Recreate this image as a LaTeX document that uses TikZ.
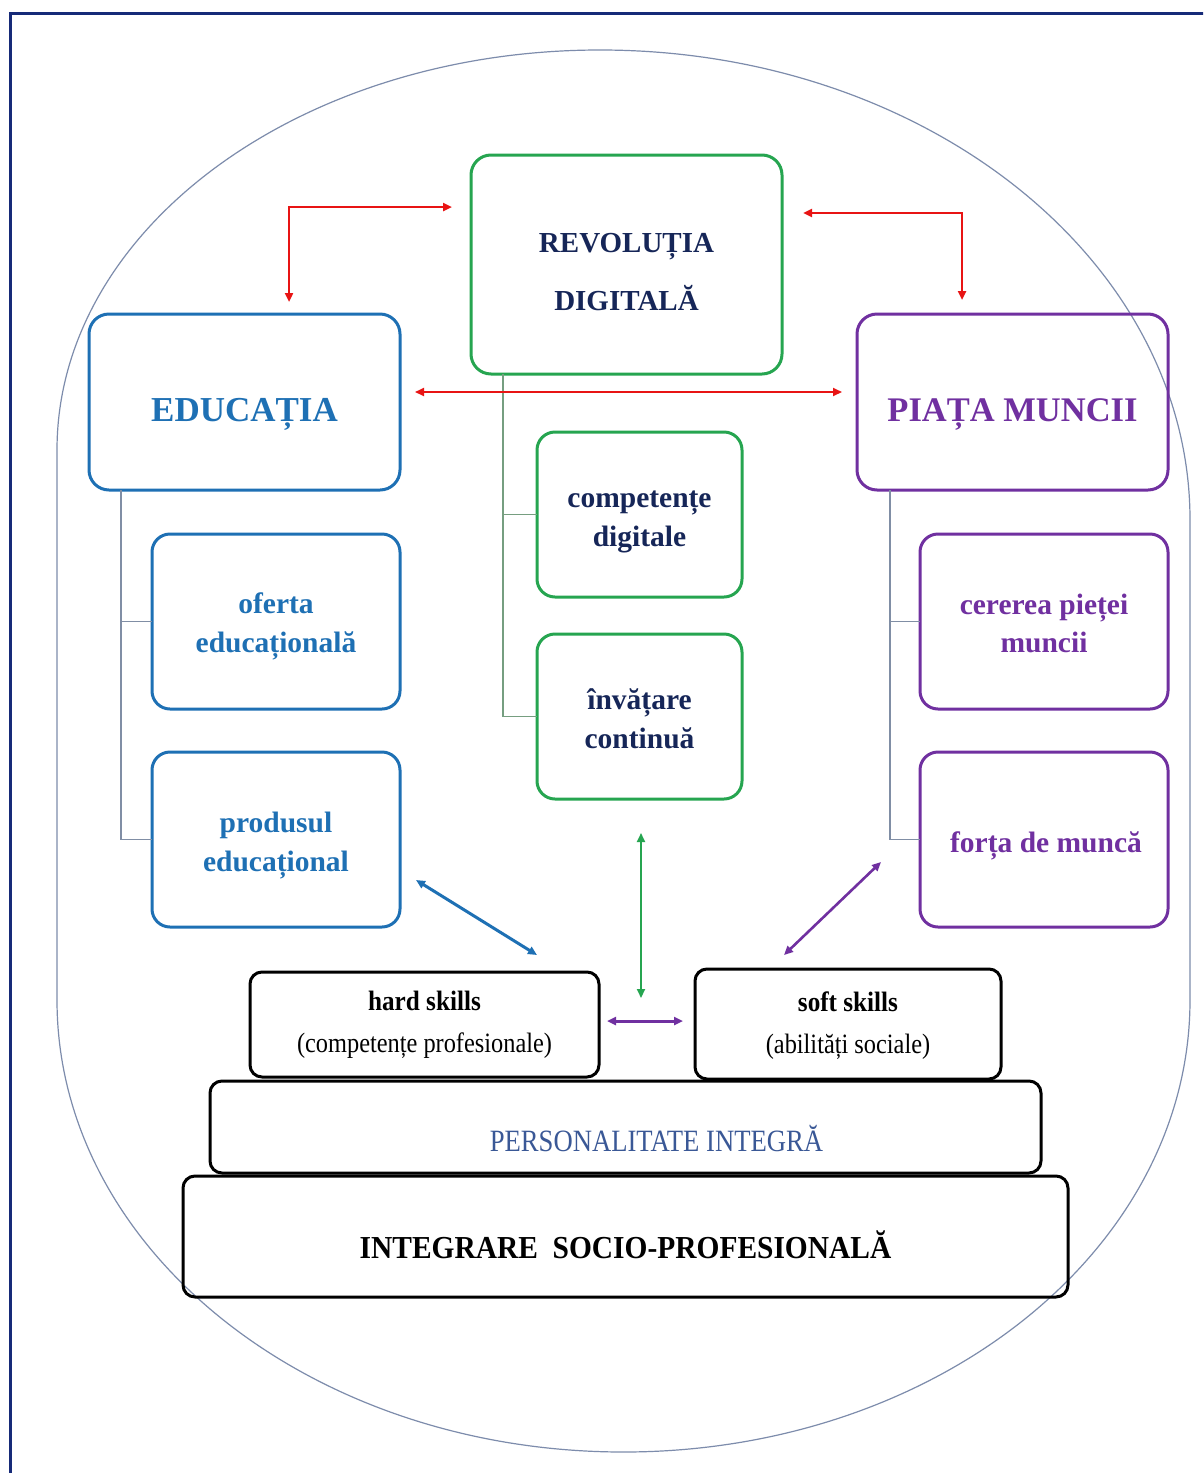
\documentclass[tikz,border=0pt]{standalone}
\usepackage{fontspec}
\setmainfont{Liberation Serif}
\usetikzlibrary{calc,arrows.meta}

\definecolor{frameblue}{RGB}{22,42,120}
\definecolor{rimgray}{RGB}{125,140,172}
\definecolor{revgreen}{RGB}{38,165,80}
\definecolor{navytext}{RGB}{22,38,88}
\definecolor{edublue}{RGB}{30,112,180}
\definecolor{mpurple}{RGB}{112,48,160}
\definecolor{arrowred}{RGB}{232,20,20}
\definecolor{treegray}{RGB}{128,142,165}
\definecolor{treegreen}{RGB}{118,158,128}
\definecolor{persblue}{RGB}{58,88,150}

\tikzset{
  box/.style={draw, line width=3pt, rounded corners=20pt, inner sep=0pt, outer sep=0pt},
  topbox/.style={box, minimum width=311pt},
  subbox/.style={box, rounded corners=18pt, minimum width=248pt, minimum height=175pt},
  midbox/.style={box, rounded corners=18pt, draw=revgreen, minimum width=205pt, minimum height=165pt},
  basebox/.style={box, draw=black, rounded corners=12pt},
  lbl/.style={inner sep=0pt, align=center},
  sublbl/.style={lbl, font=\bfseries\fontsize{29.5}{38.5}\selectfont},
  midlbl/.style={lbl, text=navytext, font=\bfseries\fontsize{29.5}{39}\selectfont},
  skilllbl/.style={lbl, font=\fontsize{28}{42}\selectfont},
  tree/.style={line width=1.2pt},
  link/.style={line width=2.6pt, {Triangle[length=9pt,width=8pt]}-{Triangle[length=9pt,width=8pt]}},
}

\begin{document}
\begin{tikzpicture}[x=1pt,y=-1pt]
\useasboundingbox (0,0) rectangle (1203,1473);
\clip (0,0) rectangle (1203,1473);
\fill[white] (0,0) rectangle (1203,1473);

% page frame (only its top and left edges fall on the page)
\draw[frameblue, line width=3pt] (10,1490) -- (10,13) -- (1220,13);

% large rounded outline around the whole scheme
\draw[rimgray, line width=1.2pt]
  (57,450) arc[start angle=180, end angle=270, x radius=543, y radius=400]
           arc[start angle=270, end angle=360, x radius=590, y radius=470]
  -- (1190,1000)
           arc[start angle=0, end angle=180, x radius=566.5, y radius=452]
  -- cycle;

% main pillars
\node[topbox, draw=revgreen, minimum height=219pt] (rev) at (626.5,264.5) {};
\node[lbl, text=navytext, font=\bfseries\fontsize{29}{58}\selectfont] (revtxt)
  at ($(rev.center)+(0,8)$) {REVOLUȚIA\\DIGITALĂ};
\node[topbox, draw=edublue, minimum height=176pt] (edu) at (244.5,402) {};
\node[lbl, text=edublue, font=\bfseries\fontsize{35}{40}\selectfont] (edutxt)
  at ($(edu.center)+(0,12)$) {EDUCAȚIA};
\node[topbox, draw=mpurple, minimum height=176pt] (piata) at (1012.5,402) {};
\node[lbl, text=mpurple, font=\bfseries\fontsize{34.5}{40}\selectfont] (piatatxt)
  at ($(piata.center)+(0,12)$) {PIAȚA MUNCII};

% sub-items
\node[subbox, draw=edublue] (ofer) at (276,621.5) {};
\node[sublbl, text=edublue] (ofertxt) at ($(ofer.center)+(0,5)$) {oferta\\educațională};
\node[subbox, draw=edublue] (prod) at (276,839.5) {};
\node[sublbl, text=edublue] (prodtxt) at ($(prod.center)+(0,6)$) {produsul\\educațional};
\node[subbox, draw=mpurple] (cer) at (1044,621.5) {};
\node[sublbl, text=mpurple] (certxt) at ($(cer.center)+(0,2)$) {cererea pieței\\muncii};
\node[subbox, draw=mpurple] (forta) at (1044,839.5) {};
\node[sublbl, text=mpurple] (fortatxt) at ($(forta.center)+(2,6)$) {forța de muncă};
\node[midbox] (comp) at (639.5,514.5) {};
\node[midlbl] (comptxt) at ($(comp.center)+(0,7)$) {competențe\\digitale};
\node[midbox] (inv) at (639.5,716.5) {};
\node[midlbl] (invtxt) at ($(inv.center)+(0,2)$) {învățare\\continuă};

% skills
\node[basebox, minimum width=349pt, minimum height=105pt] (hard) at (424.5,1024.5) {};
\node[skilllbl] (hardtxt) at (hard.center)
  {{\bfseries\scalebox{.9}[1]{hard skills}}\\\scalebox{.87}[1]{(competențe profesionale)}};
\node[basebox, minimum width=306pt, minimum height=110pt] (soft) at (848,1024) {};
\node[skilllbl] (softtxt) at ($(soft.center)+(0,2)$)
  {{\bfseries\scalebox{.9}[1]{soft skills}}\\\scalebox{.87}[1]{(abilități sociale)}};

% foundation layers
\node[basebox, minimum width=831pt, minimum height=92pt] (pers) at (625.5,1127) {};
\node[lbl, text=persblue, font=\fontsize{31}{36}\selectfont] (perstext)
  at ($(pers.center)+(31,12)$) {\scalebox{.86}[1]{PERSONALITATE INTEGRĂ}};
\node[basebox, minimum width=885pt, minimum height=121pt] (integ) at (625.5,1236.5) {};
\node[lbl, font=\bfseries\fontsize{32}{36}\selectfont] (integtxt)
  at ($(integ.center)+(0,8)$) {\scalebox{.92}[1]{INTEGRARE\ \ SOCIO-PROFESIONALĂ}};

% hierarchy lines
\draw[tree, treegray] ($(edu.south west)+(32,0)$) |- (ofer.west);
\draw[tree, treegray] ($(edu.south west)+(32,0)$) |- (prod.west);
\draw[tree, treegreen] ($(rev.south west)+(32,0)$) |- (comp.west);
\draw[tree, treegreen] ($(rev.south west)+(32,0)$) |- (inv.west);
\draw[tree, treegray] ($(piata.south west)+(33,0)$) |- (cer.west);
\draw[tree, treegray] ($(piata.south west)+(33,0)$) |- (forta.west);

% red links between the three pillars
\draw[link, arrowred] ($(edu.north west)+(200,-12)$) |- ($(rev.west)+(-19,-57.5)$);
\draw[link, arrowred] ($(rev.east)+(21,-51.5)$) -| ($(piata.north west)+(105,-14)$);
\draw[link, arrowred, line width=2pt] ($(edu.east)+(15,-10)$) -- ($(piata.west)+(-15,-10)$);

% links towards the skills
\draw[link, edublue, line width=3pt] ($(prod.east)+(16,40.5)$) -- ($(hard.north)+(112.5,-17)$);
\draw[link, revgreen, line width=2pt] ($(inv.south)+(1.5,34)$) -- ($(inv.south)+(1.5,199)$);
\draw[link, mpurple] ($(forta.west)+(-39,22.5)$) -- ($(soft.north)+(-64,-14)$);
\draw[link, mpurple, line width=3pt] ($(hard.east)+(8,-3.5)$) -- ($(soft.west)+(-12,-3)$);
\end{tikzpicture}
\end{document}
